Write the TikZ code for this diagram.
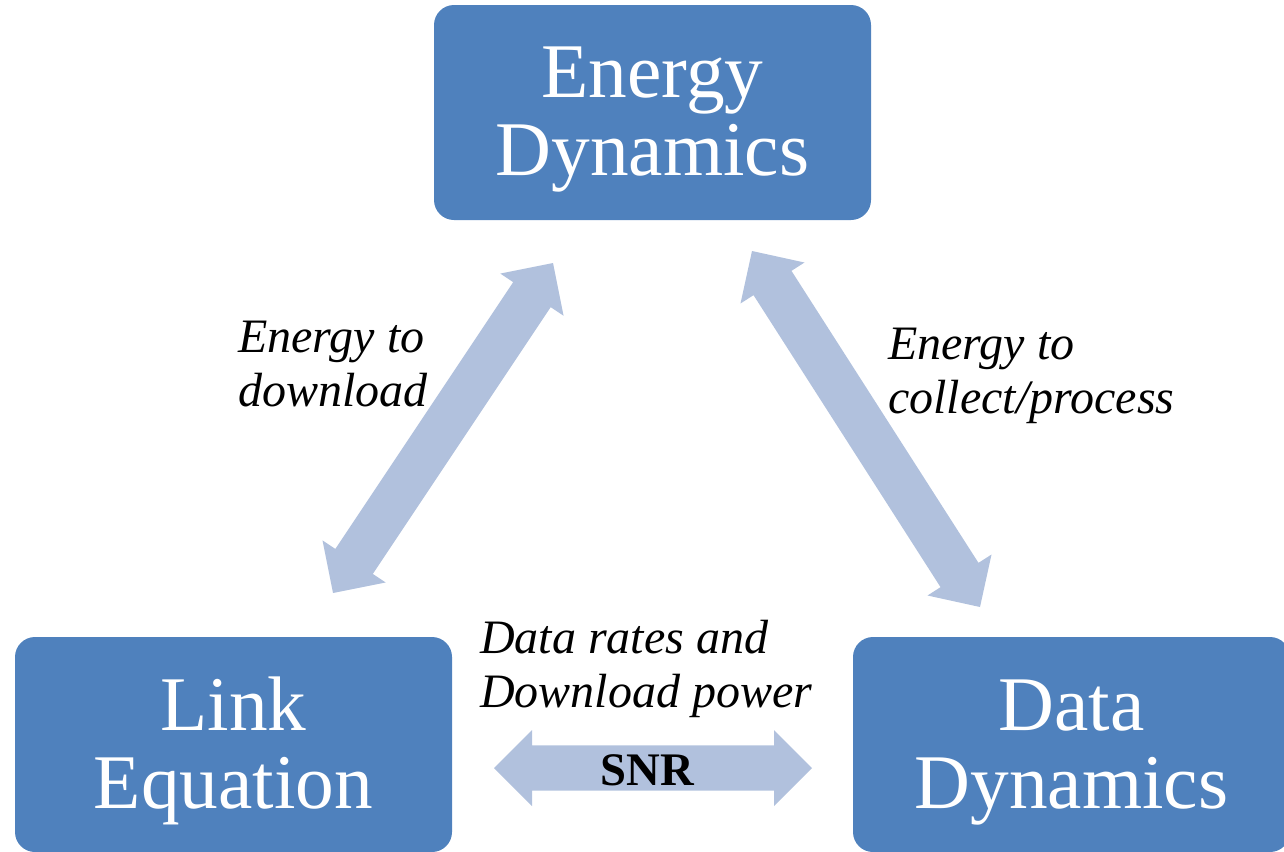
\documentclass[tikz,border=0pt]{standalone}
\usepackage{fontspec}
\setmainfont{Liberation Serif}
\usetikzlibrary{calc}
\definecolor{boxblue}{RGB}{79,129,189}
\definecolor{arrowblue}{RGB}{177,193,221}
\tikzset{
  dynbox/.style={fill=boxblue, draw=none, rounded corners=15pt, minimum width=327.75pt,
    minimum height=161.25pt, align=center, text=white, inner sep=0pt,
    font=\fontsize{58}{58.5}\selectfont},
  lbl/.style={align=left, inner sep=0pt, font=\fontsize{36}{40.5}\selectfont\itshape},
  snrlbl/.style={inner sep=0pt, font=\fontsize{35}{40}\selectfont\bfseries},
  arrowfill/.style={fill=arrowblue}
}
\newcommand{\firststrut}[1]{\rule{0pt}{#1}}
\newcommand{\dblarrow}[2]{%
  \coordinate (#1h) at ($(#1)!28.5pt!(#2)$);
  \coordinate (#2h) at ($(#2)!28.5pt!(#1)$);
  \fill[arrowfill] (#1)
    -- ($(#1h)!28.5pt!90:(#2)$) -- ($(#1h)!16.9pt!90:(#2)$)
    -- ($(#2h)!16.9pt!-90:(#1)$) -- ($(#2h)!28.5pt!-90:(#1)$)
    -- (#2)
    -- ($(#2h)!28.5pt!90:(#1)$) -- ($(#2h)!16.9pt!90:(#1)$)
    -- ($(#1h)!16.9pt!-90:(#2)$) -- ($(#1h)!28.5pt!-90:(#2)$) -- cycle;}
\begin{document}
\begin{tikzpicture}[x=0.75pt, y=-0.75pt]
\useasboundingbox (0,0) rectangle (1284,851);
\clip (0,0) rectangle (1284,851);
% boxes
\node[dynbox] (energy) at (652.5,112.5) {\firststrut{48pt}Energy\\Dynamics};
\node[dynbox] (link) at (233.5,744.5) {\firststrut{49.5pt}Link\\Equation};
\node[dynbox] (data) at (1071.5,744.5) {\firststrut{49.5pt}Data\\Dynamics};
% arrow tips
\coordinate (la) at (333,593);
\coordinate (lb) at (553,263);
\coordinate (ra) at (752,251);
\coordinate (rb) at (980,607);
\coordinate (ba) at (494,768);
\coordinate (bb) at (812,768);
\dblarrow{la}{lb}
\dblarrow{ra}{rb}
\dblarrow{ba}{bb}
% labels (anchor = baseline of last line)
\node[lbl, anchor=base west] (lab1) at (238,406) {Energy to\\download};
\node[lbl, anchor=base west] (lab2) at (888,413) {Energy to\\collect/process};
\node[lbl, anchor=base west] (lab3) at (480,707) {Data rates and\\Download power};
\node[snrlbl, anchor=base] (snr) at (647.5,785) {SNR};
\end{tikzpicture}
\end{document}
